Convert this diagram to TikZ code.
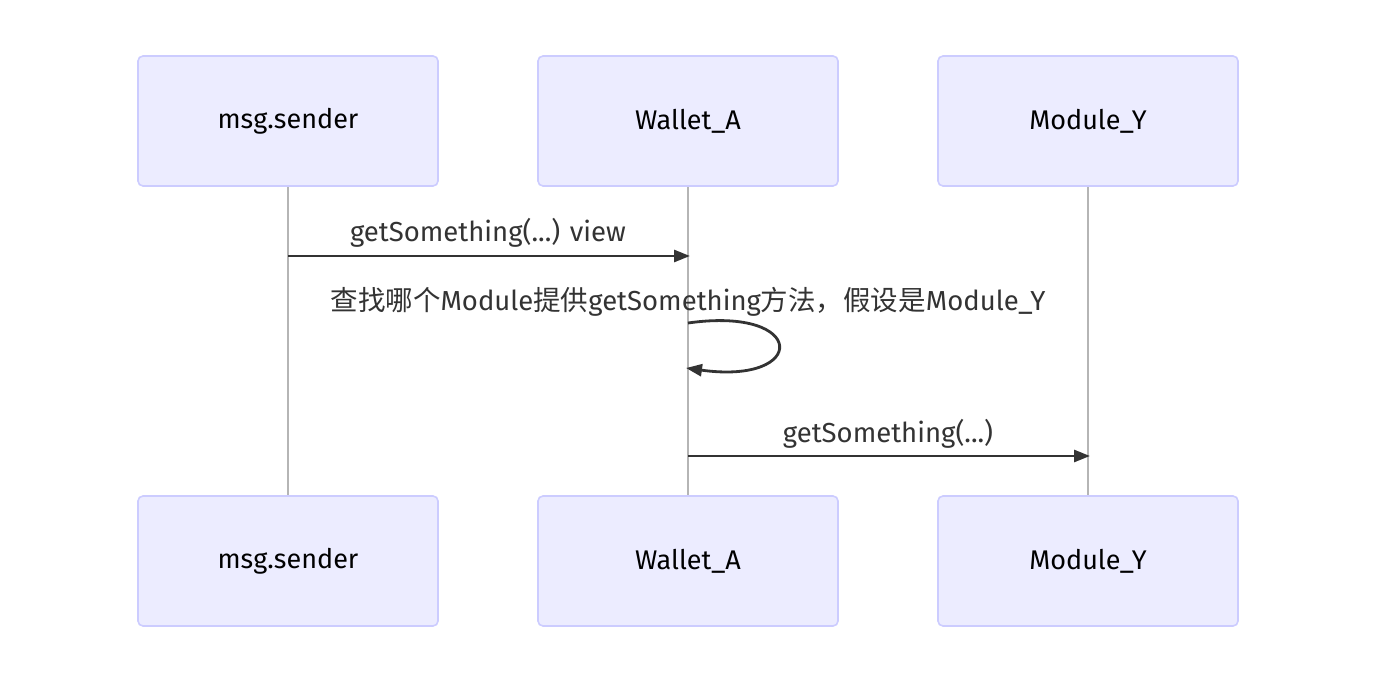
\documentclass[tikz,border=0pt]{standalone}
\usepackage{fontspec}
\setmainfont{Fira Sans}
\newfontfamily\cjk{Noto Sans CJK SC}
\usetikzlibrary{arrows.meta}
\definecolor{actfill}{HTML}{ECECFF}
\definecolor{actdraw}{HTML}{CCCCFF}
\definecolor{lifeline}{HTML}{B5B5B5}
\definecolor{msgcol}{HTML}{333333}
\tikzset{
  actor/.style={draw=actdraw, fill=actfill, line width=1.6pt, rounded corners=5pt,
    minimum width=300pt, minimum height=130pt, inner sep=0pt,
    font=\fontsize{27}{32}\selectfont, text=black},
  life/.style={draw=lifeline, line width=1.2pt},
  msg/.style={draw=msgcol, line width=2.8pt, -{Triangle[length=16pt,width=12pt]}},
  msglabel/.style={font=\fontsize{27.5}{32}\selectfont, text=msgcol, inner sep=0pt, anchor=base}
}
\begin{document}
\begin{tikzpicture}[x=1pt,y=-1pt]
\useasboundingbox (0,0) rectangle (1376,684);
\fill[white] (0,0) rectangle (1376,684);
% lifelines
\coordinate (sT) at (288,186); \coordinate (sB) at (288,496);
\coordinate (wT) at (688,186); \coordinate (wB) at (688,496);
\coordinate (mT) at (1088,186); \coordinate (mB) at (1088,496);
\draw[life] (sT) -- (sB);
\draw[life] (wT) -- (wB);
\draw[life] (mT) -- (mB);
% actors
\node[actor] (s1) at (288,121) {msg.sender};
\node[actor] (w1) at (688,121) {Wallet\_A};
\node[actor] (m1) at (1088,121) {Module\_Y};
\node[actor] (s2) at (288,561) {msg.sender};
\node[actor] (w2) at (688,561) {Wallet\_A};
\node[actor] (m2) at (1088,561) {Module\_Y};
% message 1
\coordinate (a1s) at (288,256); \coordinate (a1e) at (690,256);
\draw[msg] (a1s) -- (a1e);
\node[msglabel] (l1) at (488,242) {getSomething(...) view};
% self message
\coordinate (a2s) at (688,323); \coordinate (a2e) at (686,368);
\draw[msg] (a2s) .. controls (808,306) and (808,385) .. (a2e);
\node[msglabel] (l2) at (688,311) {{\cjk 查找哪个}Module{\cjk 提供}getSomething{\cjk 方法，假设是}Module\_Y};
% message 3
\coordinate (a3s) at (688,456); \coordinate (a3e) at (1090,456);
\draw[msg] (a3s) -- (a3e);
\node[msglabel] (l3) at (888,442) {getSomething(...)};
\end{tikzpicture}
\end{document}
